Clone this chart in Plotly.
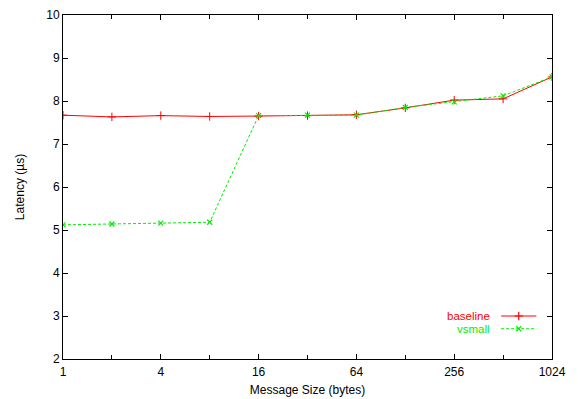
import plotly.graph_objects as go

sizes = [1, 2, 4, 8, 16, 32, 64, 128, 256, 512, 1024]
baseline = [7.67, 7.63, 7.66, 7.64, 7.65, 7.66, 7.68, 7.84, 8.02, 8.05, 8.56]
vsmall = [5.12, 5.14, 5.16, 5.18, 7.66, 7.67, 7.67, 7.85, 7.98, 8.12, 8.56]
major_ticks = [1, 4, 16, 64, 256, 1024]
minor_ticks = [2, 8, 32, 128, 512]
y_ticks = [2, 3, 4, 5, 6, 7, 8, 9, 10]

RED = "#ff0000"
GREEN = "#00ee00"
FONT = "Liberation Sans, Arial, sans-serif"

fig = go.Figure()
fig.add_trace(go.Scatter(x=sizes, y=baseline, mode="lines+markers", name="baseline",
                         line=dict(color=RED, width=1),
                         marker=dict(symbol="cross-thin", size=6, line=dict(color=RED, width=1)),
                         showlegend=False))
fig.add_trace(go.Scatter(x=sizes, y=vsmall, mode="lines+markers", name="vsmall",
                         line=dict(color=GREEN, width=1, dash="3px,2px"),
                         marker=dict(symbol="x-thin", size=5, line=dict(color=GREEN, width=1.2)),
                         showlegend=False))

# manual gnuplot-style legend (text left of sample)
legend_items = [("baseline", RED, "solid", "cross-thin", 6), ("vsmall", GREEN, "3px,2px", "x-thin", 5)]
for i, (name, col, dash, sym, ms) in enumerate(legend_items):
    yp = 0.125 - i * 0.037
    fig.add_annotation(xref="paper", yref="paper", x=0.878, y=yp, text=name, showarrow=False,
                       xanchor="right", yanchor="middle", font=dict(color=col, size=11.5, family=FONT))
    fig.add_shape(type="line", xref="paper", yref="paper", x0=0.896, x1=0.968, y0=yp, y1=yp,
                  line=dict(color=col, width=1, dash=dash))
    fig.add_trace(go.Scatter(x=[0.932], y=[yp], xaxis="x2", yaxis="y2", mode="markers",
                             marker=dict(symbol=sym, size=ms, line=dict(color=col, width=1.2)),
                             showlegend=False, hoverinfo="skip"))

fig.update_layout(
    width=578, height=399,
    margin=dict(l=63, r=26, t=15, b=40),
    paper_bgcolor="white", plot_bgcolor="white",
    font=dict(family=FONT, size=12, color="black"),
    showlegend=False,
    xaxis=dict(type="log", range=[0, 3.0103], tickvals=major_ticks, ticktext=[str(v) for v in major_ticks],
               ticks="inside", ticklen=5, tickcolor="black", showline=True, linecolor="black", linewidth=1,
               mirror="ticks", showgrid=False, zeroline=False, ticklabelstandoff=2, automargin=False,
               minor=dict(tickvals=minor_ticks, ticks="inside", ticklen=4, tickcolor="black", showgrid=False),
               title=dict(text="Message Size (bytes)", font=dict(size=12), standoff=7),
               tickfont=dict(size=12)),
    yaxis=dict(range=[2, 10], tickvals=y_ticks, ticks="inside", ticklen=5, tickcolor="black",
               showline=True, linecolor="black", linewidth=1, mirror="ticks", showgrid=False, zeroline=False,
               automargin=False,
               title=dict(text="Latency (µs)", font=dict(size=12), standoff=19),
               tickfont=dict(size=12)),
    xaxis2=dict(range=[0, 1], overlaying="x", visible=False),
    yaxis2=dict(range=[0, 1], overlaying="y", visible=False),
)

fig.write_html("out.html", config={"displayModeBar": False},
               post_script="document.body.style.margin='0px';document.body.style.overflow='hidden';")
